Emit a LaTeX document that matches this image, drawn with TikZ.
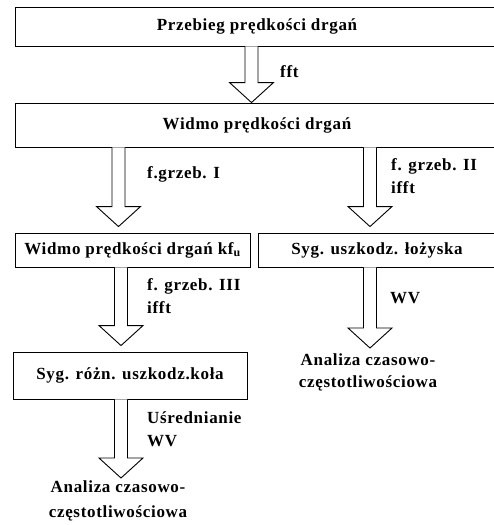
\documentclass[tikz,border=0pt]{standalone}
\usepackage{fontspec}
\setmainfont[LetterSpace=4]{Liberation Serif}
\usetikzlibrary{calc}

% hollow block arrow from a top point down to its tip
\newcommand{\bigarrow}[2]{%
  \draw[arrowbox] ($(#1)+(-6.5,0)$) -- ($(#2)+(-6.5,-20)$) -- ($(#2)+(-22,-20)$)
    -- (#2) -- ($(#2)+(22,-20)$) -- ($(#2)+(6.5,-20)$) -- ($(#1)+(6.5,0)$);}

\begin{document}
\begin{tikzpicture}[x=1pt, y=-1pt,
    txt/.style={font=\fontsize{17}{23}\selectfont\bfseries},
    box/.style={txt, draw, line width=0.9pt, inner sep=0pt},
    arrowbox/.style={draw, fill=white, line width=0.9pt, line join=miter},
    lbl/.style={txt, anchor=base west, align=left, inner sep=0pt}]
    \useasboundingbox (0,0) rectangle (494,525);
    \clip (0,0) rectangle (494,525);

    % top row
    \node[box, minimum width=484, minimum height=39] (przebieg) at (257, 26.5) {Przebieg prędkości drgań};
    \node[box, minimum width=484, minimum height=44] (widmo) at (257, 125) {Widmo prędkości drgań};

    % middle row
    \node[box, minimum width=235, minimum height=34] (widmokf) at (132.5, 250) {Widmo prędkości drgań kf\textsubscript{u}};
    \node[box, minimum width=238, minimum height=34] (lozysko) at (377, 250) {Syg. uszkodz. łożyska};

    % lower boxes and results (base = last line)
    \node[box, minimum width=234, minimum height=47] (kolo) at (130, 375.5) {Syg. różn. uszkodz.koła};
    \node[txt, anchor=base, align=center, font=\fontsize{17}{22}\selectfont\bfseries, inner sep=0pt] (analiza1) at (368, 387) {Analiza czasowo-\\częstotliwościowa};
    \node[txt, anchor=base, align=center, font=\fontsize{17}{25}\selectfont\bfseries, inner sep=0pt] (analiza2) at (118, 517) {Analiza czasowo-\\częstotliwościowa};

    % arrows
    \coordinate (a1) at (przebieg.south -| 251.5,0);
    \coordinate (b1) at (widmo.north -| 251.5,0);
    \bigarrow{a1}{b1}
    \node[lbl] (fft) at (280, 77) {fft};

    \coordinate (a2) at (widmo.south -| 118.5,0);
    \coordinate (b2) at ($(widmokf.north -| 118.5,0)+(0,-6)$);
    \bigarrow{a2}{b2}
    \node[lbl] (grzeb1) at (147, 178) {f.grzeb. I};

    \coordinate (a3) at (widmo.south -| 370,0);
    \coordinate (b3) at ($(lozysko.north -| 370,0)+(0,-6)$);
    \bigarrow{a3}{b3}
    \node[lbl] (grzeb2) at (391, 193) {f. grzeb. II\\ifft};

    \coordinate (a4) at (widmokf.south -| 121,0);
    \coordinate (b4) at ($(kolo.north -| 121,0)+(0,-6)$);
    \bigarrow{a4}{b4}
    \node[lbl] (grzeb3) at (147, 313) {f. grzeb. III\\ifft};

    \coordinate (a5) at (lozysko.south -| 370,0);
    \coordinate (b5) at ($(analiza1.north -| 370,0)+(0,-5)$);
    \bigarrow{a5}{b5}
    \node[lbl] (wv1) at (390, 303) {WV};

    \coordinate (a6) at (kolo.south -| 121,0);
    \coordinate (b6) at ($(analiza2.north -| 121,0)+(0,-2)$);
    \bigarrow{a6}{b6}
    \node[lbl] (usred) at (147, 446) {Uśrednianie\\WV};
\end{tikzpicture}
\end{document}
